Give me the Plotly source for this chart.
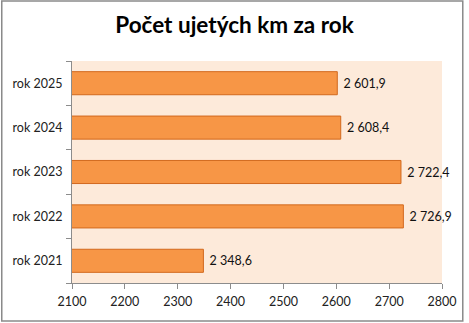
import plotly.graph_objects as go

categories = ["rok 2021", "rok 2022", "rok 2023", "rok 2024", "rok 2025"]
values = [2348.6, 2726.9, 2722.4, 2608.4, 2601.9]
labels = ["2 348,6", "2 726,9", "2 722,4", "2 608,4", "2 601,9"]
x_ticks = [2100, 2200, 2300, 2400, 2500, 2600, 2700, 2800]

W, H = 469, 323
ml, mr, mt, mb = 72, 23, 61, 40
pw, ph = W - ml - mr, H - mt - mb
FONT = "Lato, Open Sans, sans-serif"

fig = go.Figure(go.Bar(
    y=categories, x=values, orientation="h", base=0,
    text=["\u00a0" + t for t in labels], textposition="outside", cliponaxis=False,
    textfont=dict(family=FONT, size=12.5, color="#111"),
    marker=dict(color="#F79646", line=dict(color="#D2691E", width=1)),
))

fig.update_layout(
    width=W, height=H,
    margin=dict(l=ml, r=mr, t=mt, b=mb),
    paper_bgcolor="white", plot_bgcolor="#FDEADA",
    bargap=0.48, showlegend=False,
    title=dict(text="<b>Počet ujetých km za rok</b>", x=0.5, xanchor="center",
               y=1 - 25 / H, yanchor="middle",
               font=dict(family=FONT, size=22.5, color="#000")),
    font=dict(family=FONT, size=12.5, color="#222"),
    xaxis=dict(range=[2100, 2800], tickvals=x_ticks, showgrid=False, zeroline=False,
               showline=True, linecolor="#8c8c8c", linewidth=1,
               ticks="outside", ticklen=5, tickcolor="#8c8c8c",
               ticklabelstandoff=2),
    yaxis=dict(type="category", tickson="boundaries", showgrid=False,
               showline=True, linecolor="#8c8c8c", linewidth=1,
               ticks="outside", ticklen=5, tickcolor="#8c8c8c",
               ticklabelstandoff=6),
    shapes=[dict(type="rect", xref="paper", yref="paper",
                 x0=(1 - ml) / pw, x1=(467 - ml) / pw,
                 y0=(H - mb - 321) / ph, y1=(H - mb - 1) / ph,
                 line=dict(color="#8a8a8a", width=1.5), fillcolor="rgba(0,0,0,0)")],
)

fig.write_html("out.html")
